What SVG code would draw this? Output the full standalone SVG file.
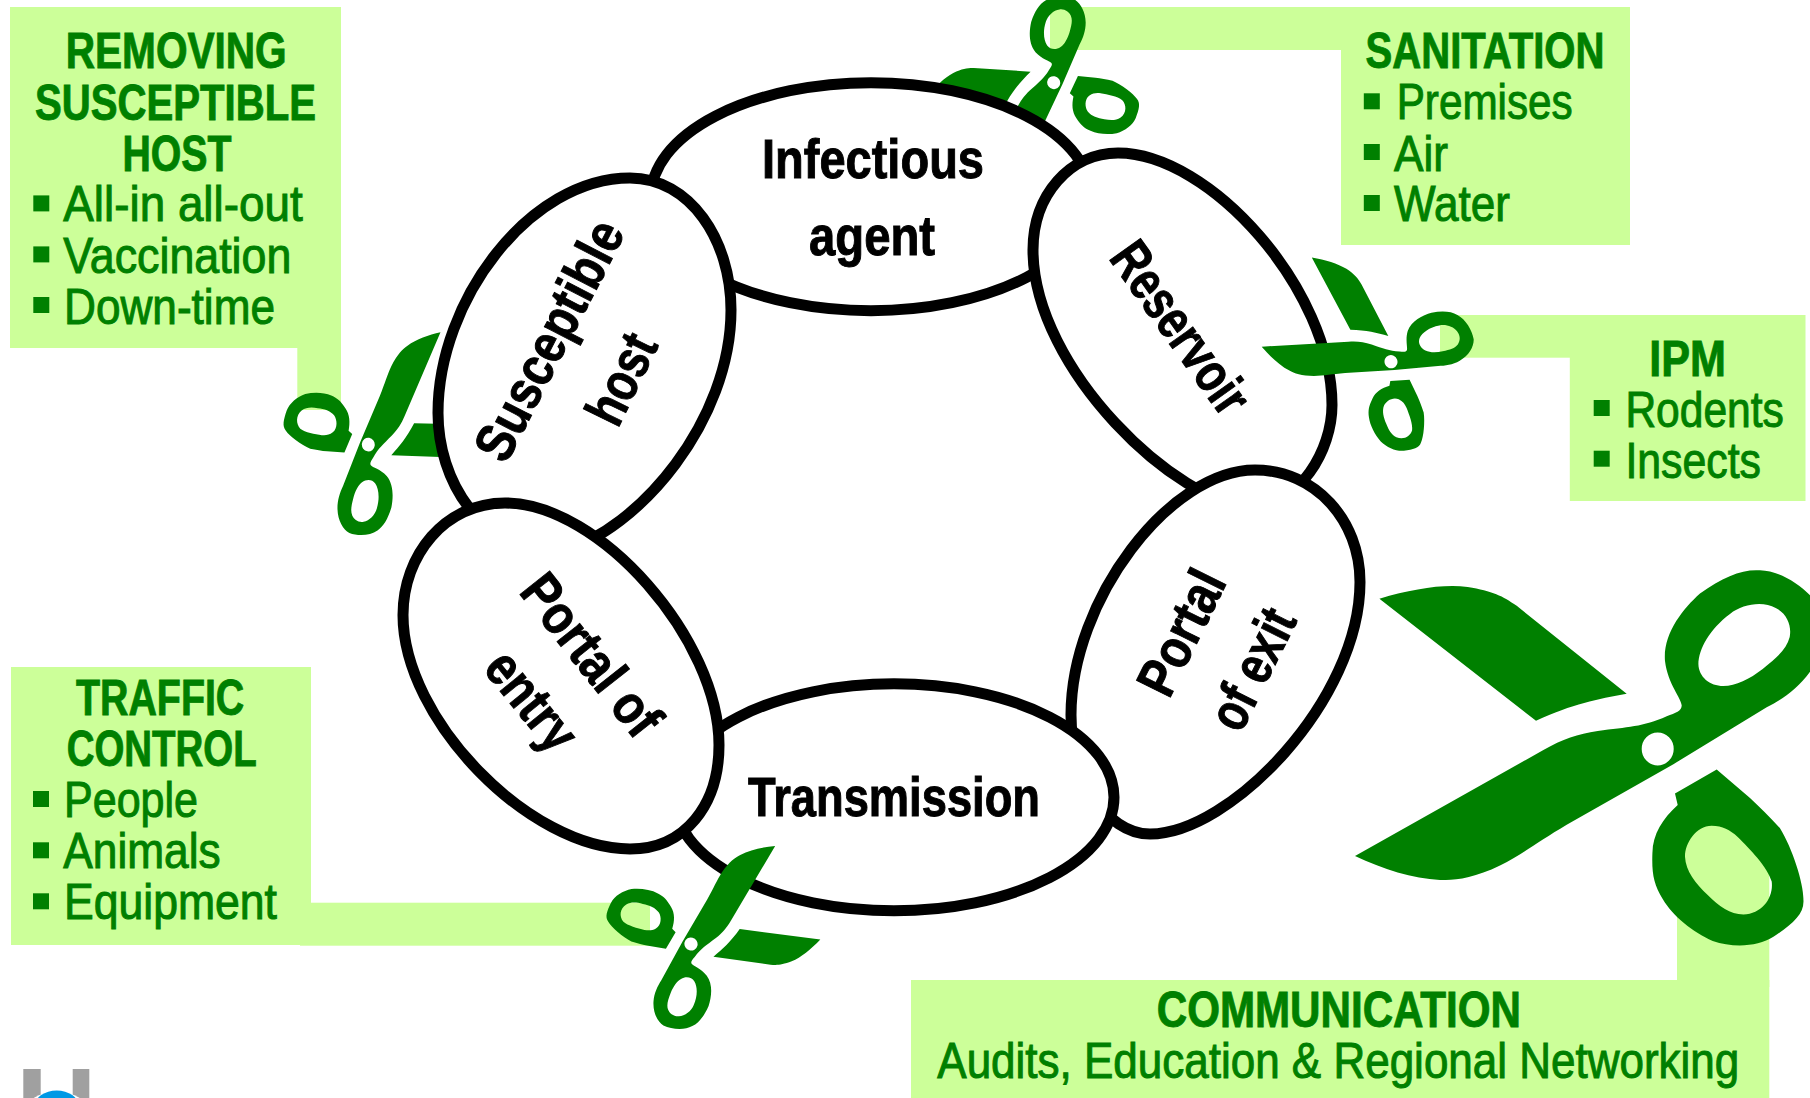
<svg xmlns="http://www.w3.org/2000/svg" width="1810" height="1098" viewBox="0 0 1810 1098">
<style>
.box{fill:#ccff99}
.blob{fill:#fff;stroke:#000;stroke-width:11}
.h{font-family:"Liberation Sans Narrow","Liberation Sans",sans-serif;font-weight:700;font-size:49.5px;fill:#008000;stroke:#008000;stroke-width:.9}
.li{font-family:"Liberation Sans Narrow","Liberation Sans",sans-serif;font-size:49.5px;fill:#008000;stroke:#008000;stroke-width:1}
.b{fill:#008000}
.n{font-family:"Liberation Sans Narrow","Liberation Sans",sans-serif;font-weight:700;font-size:55px;fill:#000;stroke:#000;stroke-width:1}
</style>
<defs>
<g id="scissors" fill="#008000" fill-rule="evenodd">
<path d="M-302.7,107.1 L-114.3,1.1 C-95,-10 -80,-15 -60,-18 C-30,-22 -15,-22 9,-32.7 C18,-36 24,-38 24,-43.4 C24,-50 10,-65 7.3,-87.9 C5,-115 25,-140 42.3,-155.5 C65,-172 85,-180 102.3,-178.6 C125,-178 150,-160 162.3,-141.3 C170,-125 168,-100 152.3,-77.2 C140,-60 125,-50 109,-41.6 L15.7,15.3 L-91,75.8 C-120,93 -135,105 -157.7,116.7 C-185,130 -205,132 -217.7,131 C-245,130 -275,120 -302.7,107.1Z M40.7,-85 C41,-100 52,-120 72.3,-135 C85,-145 105,-148 118,-141 C130,-135 134,-122 132,-112 C129,-100 120,-92 105,-80 C92,-70 78,-63 65.7,-63 C52,-63 41,-72 40.7,-85Z M-16,0 A16,16.5 0 1 0 16,0 A16,16.5 0 1 0 -16,0Z"/>
<path d="M-278.3,-150.2 C-245,-160 -215,-165 -190,-162 C-165,-158 -155,-153 -141,-143.1 L-31,-55.2 C-60,-50 -85,-45 -121.7,-28.1Z"/>
<path d="M59,20.6 L17.3,44.5 L20,56.2 C5,70 -5,85 -5.3,104.3 C-6,125 -4,135 5,150 C15,167 35,183 55,192 C75,199 100,198 115.7,187.9 C135,175 147,165 145.7,150.5 C146,135 135,100 122.3,79.4 C112,68 102,58 92.3,49.1Z M27.3,107.8 C27,95 38,77 54,76.9 C65,77 72,81 80,88 C92,100 110,118 114,132.7 C116,148 105,165 85.7,165.5 C72,165 62,158 50,146 C38,135 28,122 27.3,107.8Z"/>
</g>
</defs>
<rect width="1810" height="1098" fill="#fff"/>
<g id="connectors">
<rect class="box" x="297.3" y="340" width="43.7" height="70"/>
<rect class="box" x="1050" y="7" width="300" height="43"/>
<rect class="box" x="1440" y="315" width="140" height="42.7"/>
<rect class="box" x="300" y="902.7" width="350" height="43"/>
<rect class="box" x="1677" y="822" width="92.3" height="165"/>
</g>
<g id="scissors-top"><use href="#scissors" transform="matrix(.3288 -.2288 .2343 .3285 1053.7 82.7)"/></g>
<g id="scissors-left"><use href="#scissors" transform="matrix(-.322 .252 -.236 -.336 368.3 444.6)"/></g>
<g id="infectious-agent">
<ellipse class="blob" cx="871" cy="196.7" rx="220" ry="114"/>
<text class="n" x="762" y="178" textLength="222" lengthAdjust="spacingAndGlyphs">Infectious</text>
<text class="n" x="809" y="255" textLength="126" lengthAdjust="spacingAndGlyphs">agent</text>
</g>
<g id="susceptible-host">
<path class="blob" d="M630,178 C690,178 731,240 731,310 C731,420 640,530 560,552 C480,552 438,480 438,413 C438,300 530,178 630,178Z"/>
<text class="n" transform="translate(505.7 465.3) rotate(-62.7)" textLength="262" lengthAdjust="spacingAndGlyphs">Susceptible</text>
<text class="n" transform="translate(617.7 429.3) rotate(-64)" textLength="94" lengthAdjust="spacingAndGlyphs">host</text>
</g>
<g id="reservoir">
<path class="blob" d="M1118,153 C1210,153 1332,290 1332,405 C1332,450 1300,506 1250,506 C1180,506 1033,370 1033,250 C1033,195 1070,153 1118,153Z"/>
<text class="n" transform="translate(1108 258) rotate(54.5)" textLength="198" lengthAdjust="spacingAndGlyphs">Reservoir</text>
</g>
<g id="portal-of-exit">
<path class="blob" d="M1255,470 C1315,470 1360,520 1360,582 C1360,700 1230,834 1150,834 C1105,834 1071,775 1071,715 C1071,600 1170,470 1255,470Z"/>
<text class="n" transform="translate(1169 700) rotate(-63.7)" textLength="132" lengthAdjust="spacingAndGlyphs">Portal</text>
<text class="n" transform="translate(1240.5 734.5) rotate(-63.4)" textLength="128" lengthAdjust="spacingAndGlyphs">of exit</text>
</g>
<g id="transmission">
<ellipse class="blob" cx="894" cy="797.3" rx="220" ry="113.5"/>
<text class="n" x="748" y="816" textLength="292" lengthAdjust="spacingAndGlyphs">Transmission</text>
</g>
<g id="portal-of-entry">
<path class="blob" d="M505,503 C600,503 719,640 719,745 C719,805 685,849 630,849 C530,849 403,720 403,615 C403,555 445,503 505,503Z"/>
<text class="n" transform="translate(518 592) rotate(51.7)" textLength="190" lengthAdjust="spacingAndGlyphs">Portal of</text>
<text class="n" transform="translate(482 669) rotate(50.9)" textLength="112" lengthAdjust="spacingAndGlyphs">entry</text>
</g>
<g id="scissors-right"><use href="#scissors" transform="matrix(.3707 .1783 -.1595 .3639 1391 361.7)"/></g>
<g id="scissors-bottom"><use href="#scissors" transform="matrix(-.352 .202 -.2089 -.344 691 944)"/></g>
<g id="scissors-large"><use href="#scissors" transform="translate(1657.7 748.9)"/></g>
<g id="removing-susceptible-host">
<rect class="box" x="10" y="7" width="331" height="341"/>
<text class="h" x="65.7" y="68" textLength="221" lengthAdjust="spacingAndGlyphs">REMOVING</text>
<text class="h" x="35" y="119.6" textLength="281" lengthAdjust="spacingAndGlyphs">SUSCEPTIBLE</text>
<text class="h" x="122.5" y="170.7" textLength="109" lengthAdjust="spacingAndGlyphs">HOST</text>
<rect class="b" x="33.3" y="195.4" width="16" height="16"/><text class="li" x="63.3" y="221.4" textLength="239.4" lengthAdjust="spacingAndGlyphs">All-in all-out</text>
<rect class="b" x="33.3" y="246.4" width="16" height="16"/><text class="li" x="63.3" y="273.2" textLength="228" lengthAdjust="spacingAndGlyphs">Vaccination</text>
<rect class="b" x="33.3" y="297" width="16" height="16"/><text class="li" x="64" y="323.9" textLength="211" lengthAdjust="spacingAndGlyphs">Down-time</text>
</g>
<g id="sanitation">
<rect class="box" x="1341" y="7" width="289" height="238"/>
<text class="h" x="1365.5" y="68.3" textLength="239" lengthAdjust="spacingAndGlyphs">SANITATION</text>
<rect class="b" x="1363.8" y="93.3" width="16" height="16"/><text class="li" x="1396.7" y="119.3" textLength="176" lengthAdjust="spacingAndGlyphs">Premises</text>
<rect class="b" x="1363.8" y="144" width="16" height="16"/><text class="li" x="1394" y="170.7" textLength="54" lengthAdjust="spacingAndGlyphs">Air</text>
<rect class="b" x="1363.8" y="195" width="16" height="16"/><text class="li" x="1394" y="220.7" textLength="116" lengthAdjust="spacingAndGlyphs">Water</text>
</g>
<g id="ipm">
<rect class="box" x="1569.8" y="315" width="235.7" height="186"/>
<text class="h" transform="translate(1649.3 375.7) scale(.8 1)" textLength="95.75" lengthAdjust="spacingAndGlyphs">IPM</text>
<rect class="b" x="1593.7" y="400" width="16" height="16"/><text class="li" transform="translate(1625.4 426.7) scale(.8 1)" textLength="198" lengthAdjust="spacingAndGlyphs">Rodents</text>
<rect class="b" x="1593.7" y="450.7" width="16" height="16"/><text class="li" transform="translate(1625.4 477.7) scale(.8 1)" textLength="169.5" lengthAdjust="spacingAndGlyphs">Insects</text>
</g>
<g id="traffic-control">
<rect class="box" x="11" y="667" width="300" height="278"/>
<text class="h" x="76" y="714.7" textLength="168.3" lengthAdjust="spacingAndGlyphs">TRAFFIC</text>
<text class="h" x="66.7" y="765.7" textLength="190" lengthAdjust="spacingAndGlyphs">CONTROL</text>
<rect class="b" x="33" y="791" width="16" height="16"/><text class="li" x="64" y="816.7" textLength="134" lengthAdjust="spacingAndGlyphs">People</text>
<rect class="b" x="33" y="842.3" width="16" height="16"/><text class="li" x="63.3" y="868" textLength="157.4" lengthAdjust="spacingAndGlyphs">Animals</text>
<rect class="b" x="33" y="893.3" width="16" height="16"/><text class="li" x="64" y="919" textLength="213" lengthAdjust="spacingAndGlyphs">Equipment</text>
</g>
<g id="communication">
<rect class="box" x="911" y="980" width="858.3" height="118"/>
<text class="h" transform="translate(1156.7 1027.3) scale(.8 1)" textLength="455.4" lengthAdjust="spacingAndGlyphs">COMMUNICATION</text>
<text class="li" transform="translate(937.3 1078) scale(.8 1)" textLength="1002.5" lengthAdjust="spacingAndGlyphs">Audits, Education &amp; Regional Networking</text>
</g>
<g id="logo">
<rect x="23.3" y="1069" width="17.4" height="29" fill="#a0a0a0"/>
<rect x="72.7" y="1069" width="16.6" height="29" fill="#a0a0a0"/>
<ellipse cx="56.7" cy="1112" rx="32" ry="20" fill="#fff"/>
<ellipse cx="56.7" cy="1106" rx="22" ry="15.5" fill="#0099e5"/>
</g>
</svg>
